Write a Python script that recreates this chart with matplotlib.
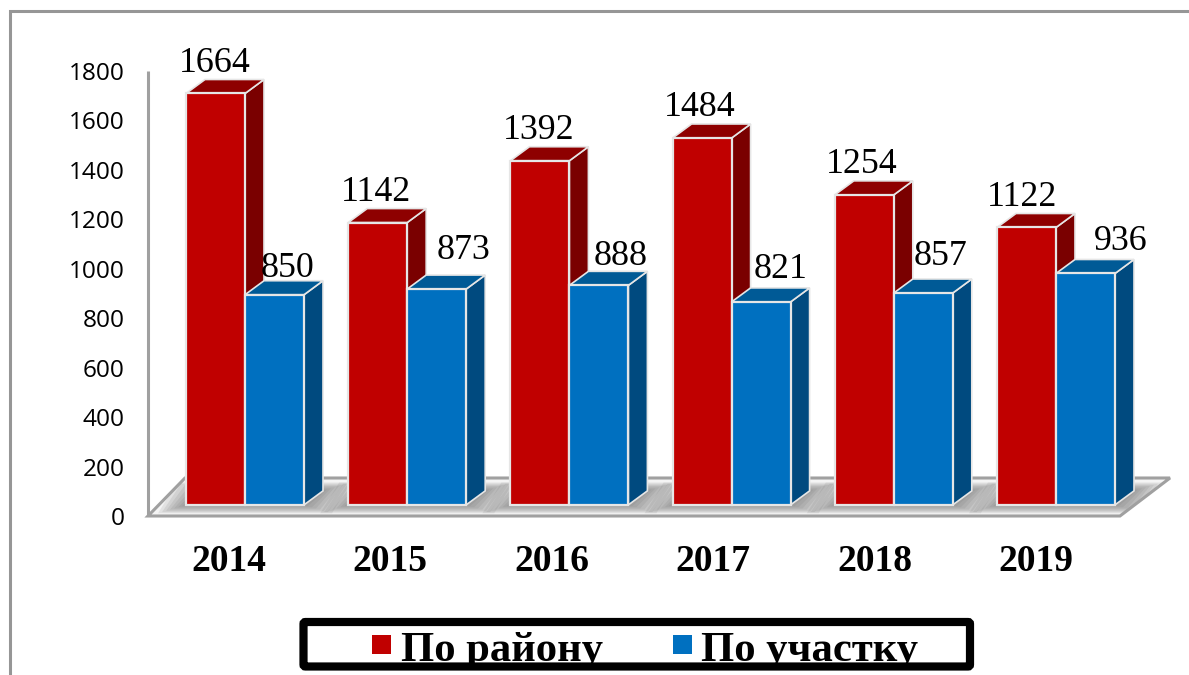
import matplotlib
matplotlib.use('Agg')
import matplotlib.pyplot as plt
from matplotlib.patches import Polygon, Rectangle, FancyBboxPatch

years = ['2014', '2015', '2016', '2017', '2018', '2019']
po_rayonu = [1664, 1142, 1392, 1484, 1254, 1122]
po_uchastku = [850, 873, 888, 821, 857, 936]
yticks = [0, 200, 400, 600, 800, 1000, 1200, 1400, 1600, 1800]

W, H = 1189, 675
RED, RED_TOP, RED_SIDE = '#c00000', '#8e0000', '#7a0000'
BLUE, BLUE_TOP, BLUE_SIDE = '#0070c0', '#005a96', '#004a7f'
EDGE = '#e6e6e6'
AXIS = '#a0a0a0'

# scales of the plot: 162.2 px per year, 0.2472 px per unit
PX_X = 162.2
PX_Y = 0.2472
bar_w = 59 / PX_X
dep_x = 19 / PX_X
dep_y = 14 / PX_Y
lift = 45  # the bars stand on the floor a bit above the axis zero

# hand placement of the value labels, in pixels
red_dx = [-30, -31, -31, -32, -32, -34]
blue_dx = [42, 56, 51, 49, 47, 65]
blue_dy = [-5, 7, -3, 1, 5, 0]

fig = plt.figure(figsize=(W / 100, H / 100), dpi=100)
fig.patch.set_facecolor('white')


def px_axes(x0, x1, y0, y1):
    return fig.add_axes([x0 / W, 1 - y1 / H, (x1 - x0) / W, (y1 - y0) / H])


ax = px_axes(148, 1170, 71, 516)
ax.set_xlim((148 - 245) / PX_X, (1170 - 245) / PX_X)
ax.set_ylim(0, 1800)
ax.patch.set_alpha(0)
for s in ['top', 'right', 'bottom', 'left']:
    ax.spines[s].set_visible(False)

# floor
fx0, fx1 = ax.get_xlim()
fl_x = (1120 - 148) / PX_X + fx0
back_x0 = (185 - 148) / PX_X + fx0
floor_top = 38 / PX_Y
floor = Polygon([(fx0, 0), (fl_x, 0), (fx1, floor_top), (back_x0, floor_top)],
                closed=True, fc='#f4f4f4', ec='none', zorder=1, clip_on=False)
ax.add_patch(floor)
ax.add_patch(Polygon(floor.get_xy(), closed=True, fc='none', ec=AXIS, lw=2.2, zorder=2.5, clip_on=False))
ax.plot([fx0, fx0], [0, 1800], color=AXIS, lw=2.2, zorder=2.5, clip_on=False, solid_capstyle='butt')


def shadow(i):
    # blurred footprint of the pair of bars, built from stacked see-through shapes
    x0, x1 = i - bar_w, i + bar_w
    for k in range(8):
        gx = k * 4 / PX_X
        gy = k * 1.2 / PX_Y
        sh = Polygon([(x0 - gx, lift - gy), (x1 + gx, lift - gy),
                      (x1 + dep_x + gx, lift + dep_y + gy), (x0 + dep_x - gx, lift + dep_y + gy)],
                     closed=True, fc='#6e6e6e', ec='none', alpha=0.13, zorder=2, clip_on=True)
        ax.add_patch(sh)
        sh.set_clip_path(floor)


def bar3d(x, v, front, top, side, z):
    y0, y1 = lift, lift + v
    ax.add_patch(Polygon([(x + bar_w, y0), (x + bar_w + dep_x, y0 + dep_y), (x + bar_w + dep_x, y1 + dep_y), (x + bar_w, y1)],
                         closed=True, fc=side, ec=EDGE, lw=1.2, zorder=z, clip_on=False))
    ax.add_patch(Polygon([(x, y1), (x + bar_w, y1), (x + bar_w + dep_x, y1 + dep_y), (x + dep_x, y1 + dep_y)],
                         closed=True, fc=top, ec=EDGE, lw=1.2, zorder=z, clip_on=False))
    ax.add_patch(Rectangle((x, y0), bar_w, v, fc=front, ec=EDGE, lw=1.6, zorder=z + 0.5, clip_on=False))


for i, year in enumerate(years):
    shadow(i)
    bar3d(i - bar_w, po_rayonu[i], RED, RED_TOP, RED_SIDE, 3)
    bar3d(i, po_uchastku[i], BLUE, BLUE_TOP, BLUE_SIDE, 4)
    ax.text(i + red_dx[i] / PX_X, lift + po_rayonu[i] + dep_y - 2, str(po_rayonu[i]), ha='center', va='bottom',
            family='Liberation Serif', fontsize=25.8, color='black', zorder=6, clip_on=False)
    ax.text(i + blue_dx[i] / PX_X, lift + po_uchastku[i] + dep_y + 4 + blue_dy[i] / PX_Y, str(po_uchastku[i]), ha='center', va='bottom',
            family='Liberation Serif', fontsize=25.8, color='black', zorder=6, clip_on=False)

ax.set_yticks(yticks)
ax.set_yticklabels([str(t) for t in yticks], family='Open Sans', fontsize=17.6, color='black')
# the year labels run a little tighter than the bars
ax.set_xticks([i * 161.5 / PX_X - 0.1 for i in range(len(years))])
ax.set_xticklabels(years, family='Liberation Serif', fontsize=27, fontweight='bold', color='black')
ax.tick_params(axis='y', length=0, pad=17)
ax.tick_params(axis='x', length=0, pad=20.5)

# outer frame and legend drawn on a pixel overlay
ov = fig.add_axes([0, 0, 1, 1])
ov.set_xlim(0, W)
ov.set_ylim(H, 0)
ov.axis('off')
ov.patch.set_alpha(0)
ov.plot([10, 10, 1189], [H, 11, 11], color='#969696', lw=2.2, solid_joinstyle='miter')

ov.add_patch(FancyBboxPatch((303.5, 622), 666.5, 44.5, boxstyle='round,pad=0,rounding_size=2',
                            fc='white', ec='black', lw=5.9, zorder=3))
txt_clip = Rectangle((304, 622), 667, 40, transform=ov.transData)
ov.add_patch(Rectangle((372, 635), 19, 19, fc=RED, ec='none', zorder=4))
ov.add_patch(Rectangle((673, 635), 19, 19, fc=BLUE, ec='none', zorder=4))
t1 = ov.text(401, 661, 'По району', family='Liberation Serif', fontsize=30.7, fontweight='bold', va='baseline', zorder=4)
t2 = ov.text(701, 661, 'По участку', family='Liberation Serif', fontsize=30.7, fontweight='bold', va='baseline', zorder=4)
t1.set_clip_path(txt_clip)
t2.set_clip_path(txt_clip)

fig.savefig('out.png', dpi=100, facecolor='white')
